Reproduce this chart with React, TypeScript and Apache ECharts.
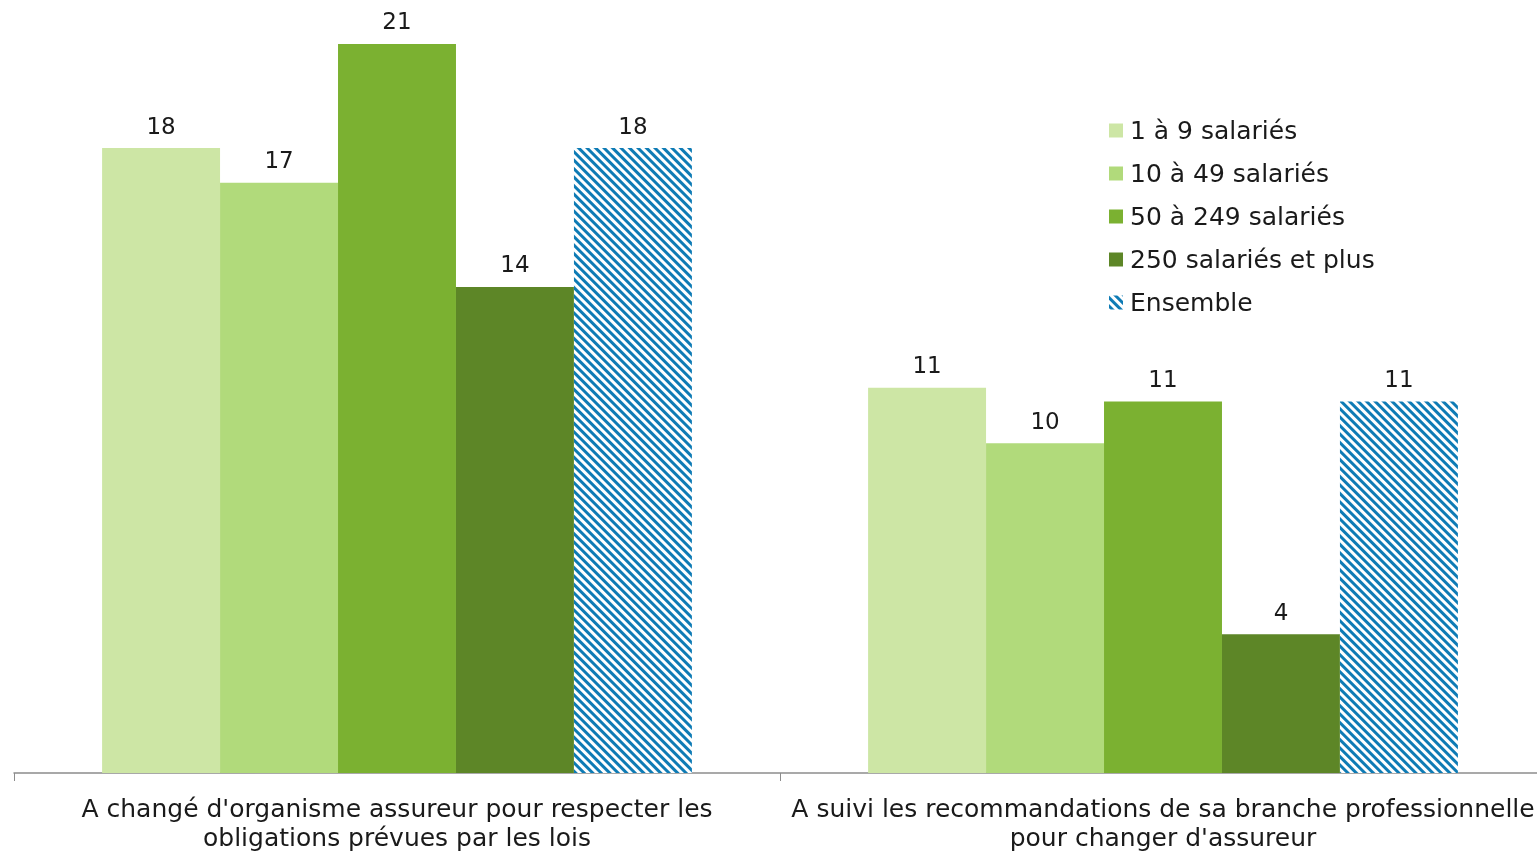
import React, { useEffect, useRef } from "react";
import * as echarts from "echarts";

const categories = [
  "A changé d'organisme assureur pour respecter les\nobligations prévues par les lois",
  "A suivi les recommandations de sa branche professionnelle\npour changer d'assureur",
];
const seriesNames = ["1 à 9 salariés", "10 à 49 salariés", "50 à 249 salariés", "250 salariés et plus", "Ensemble"];
const s1 = [18, 11.1];
const s2 = [17, 9.5];
const s3 = [21, 10.7];
const s4 = [14, 4.0];
const s5 = [18, 10.7];
const seriesValues = [s1, s2, s3, s4, s5];
const colors = ["#cde6a5", "#b1da7b", "#7bb131", "#5d8627", "#ffffff"];

const FONT = "DejaVu Sans, Verdana, sans-serif";

export default function App() {
  const ref = useRef<HTMLDivElement>(null);
  useEffect(() => {
    const chart = echarts.init(ref.current!, null, { renderer: "svg" });
    chart.setOption({
      animation: false,
      textStyle: { fontFamily: FONT },
      grid: { left: 14, right: 0, top: 9.2, bottom: 77 },
      legend: {
        orient: "vertical",
        left: 1104,
        top: 113,
        itemWidth: 14,
        itemHeight: 14,
        itemGap: 18,
        icon: "rect",
        textStyle: { fontSize: 25, color: "#1a1a1a", fontFamily: FONT, padding: [0, 0, 0, 2] },
        data: seriesNames,
      },
      xAxis: {
        type: "category",
        data: categories,
        axisLine: { lineStyle: { color: "#8c8c8c", width: 1.5 } },
        axisTick: { show: true, length: 8, lineStyle: { color: "#8c8c8c" } },
        axisLabel: {
          interval: 0,
          hideOverlap: false,
          fontSize: 25,
          lineHeight: 29,
          color: "#1a1a1a",
          fontFamily: FONT,
          margin: 21,
        },
      },
      yAxis: { type: "value", min: 0, max: 22, show: false, splitLine: { show: false } },
      series: seriesNames.map((name, i) => ({
        name,
        type: "bar",
        data: seriesValues[i],
        barGap: "0%",
        barCategoryGap: "23%",
        itemStyle:
          i === 4
            ? {
                color: "#ffffff",
                decal: {
                  symbol: "rect",
                  symbolSize: 1,
                  color: "#0e7bb5",
                  dashArrayX: [1, 0],
                  dashArrayY: [3, 2.6],
                  rotation: Math.PI / 4,
                },
              }
            : { color: colors[i] },
        label: {
          show: true,
          position: "top",
          distance: 11,
          fontSize: 23,
          color: "#1a1a1a",
          fontFamily: FONT,
          formatter: (p: any) => String(Math.round(p.value)),
        },
      })),
    });
    return () => chart.dispose();
  }, []);
  return (
    <div style={{ position: "fixed", left: 0, top: 0, width: 1537, height: 852, overflow: "hidden" }}>
      <div ref={ref} style={{ position: "absolute", left: 0, top: 0, width: 1546, height: 852 }} />
    </div>
  );
}
